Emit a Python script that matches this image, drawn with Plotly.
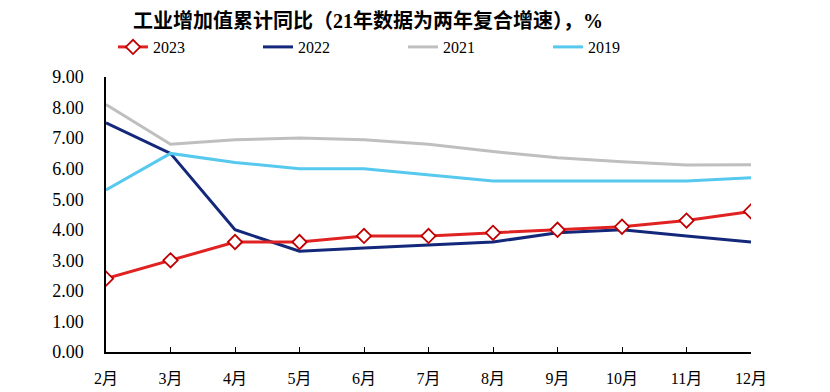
import plotly.graph_objects as go

months = ["2月", "3月", "4月", "5月", "6月", "7月", "8月", "9月", "10月", "11月", "12月"]
y2023 = [2.4, 3.0, 3.6, 3.6, 3.8, 3.8, 3.9, 4.0, 4.1, 4.3, 4.6]
y2022 = [7.5, 6.5, 4.0, 3.3, 3.4, 3.5, 3.6, 3.9, 4.0, 3.8, 3.6]
y2021 = [8.1, 6.8, 6.95, 7.0, 6.95, 6.8, 6.56, 6.36, 6.23, 6.12, 6.13]
y2019 = [5.3, 6.5, 6.2, 6.0, 6.0, 5.8, 5.6, 5.6, 5.6, 5.6, 5.7]
yticks = [0, 1, 2, 3, 4, 5, 6, 7, 8, 9]

x = list(range(len(months)))
FONT = "Liberation Serif, Times New Roman, Noto Sans CJK SC, serif"

fig = go.Figure()
fig.add_trace(go.Scatter(x=x, y=y2022, name="2022", mode="lines", legendrank=2,
                         line=dict(color="#13287A", width=3)))
fig.add_trace(go.Scatter(x=x, y=y2021, name="2021", mode="lines", legendrank=3,
                         line=dict(color="#BFBFBF", width=3)))
fig.add_trace(go.Scatter(x=x, y=y2019, name="2019", mode="lines", legendrank=4,
                         line=dict(color="#57C8EE", width=3)))
fig.add_trace(go.Scatter(x=x, y=y2023, name="2023", mode="lines+markers", legendrank=1,
                         line=dict(color="#E02222", width=3),
                         marker=dict(symbol="diamond", size=11, color="white",
                                     line=dict(color="#C00000", width=1.8))))

fig.update_layout(
    width=830, height=392,
    margin=dict(l=106, r=79, t=77, b=40, autoexpand=False),
    paper_bgcolor="white", plot_bgcolor="white",
    font=dict(family=FONT, size=17, color="black"),
    title=dict(text="<b>工业增加值累计同比（21年数据为两年复合增速），%</b>",
               x=368/830, xanchor="center", xref="container",
               y=1 - 21/392, yanchor="middle", yref="container",
               font=dict(size=20, family=FONT, color="black")),
    legend=dict(orientation="h", x=113/830, xanchor="left", xref="container",
                y=1 - 47/392, yanchor="middle", yref="container",
                traceorder="normal", entrywidth=100, entrywidthmode="pixels",
                font=dict(size=16, family=FONT), itemwidth=30,
                bgcolor="rgba(0,0,0,0)"),
    showlegend=True,
)

fig.update_xaxes(tickmode="array", tickvals=x, ticktext=months, range=[0, 10],
                 showline=True, linecolor="black", linewidth=1.5,
                 ticks="inside", ticklen=5, tickcolor="black", tickwidth=1.2,
                 showgrid=False, zeroline=False, tickfont=dict(size=16),
                 ticklabelstandoff=11, fixedrange=True)
fig.update_yaxes(range=[0, 9], tickvals=yticks, tickformat=".2f",
                 showline=True, linecolor="black", linewidth=1.5,
                 ticks="", showgrid=False, zeroline=False,
                 tickfont=dict(size=18), ticklabelstandoff=17, fixedrange=True)

fig.write_html("out.html", config={"displayModeBar": False},
               post_script="document.body.style.margin='0';")
